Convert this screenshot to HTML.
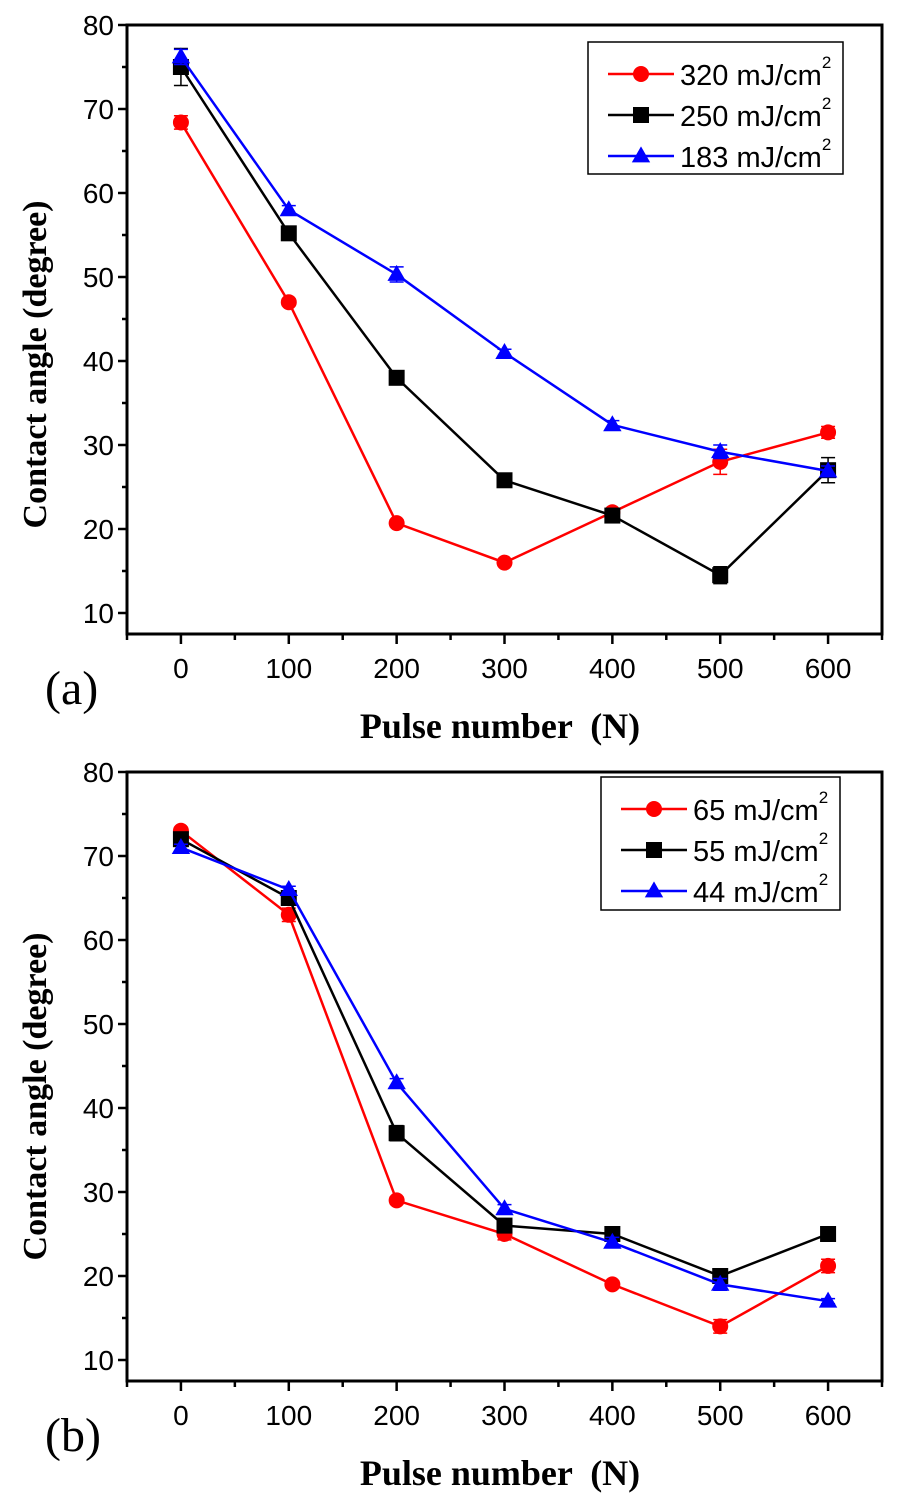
<!DOCTYPE html>
<html><head><meta charset="utf-8">
<style>
html,body{margin:0;padding:0;background:#fff;}
svg{display:block;}
.tick{font-family:"Liberation Sans",Arial,sans-serif;font-size:28px;fill:#000;}
.title{font-family:"Liberation Serif","Times New Roman",serif;font-weight:bold;font-size:34px;fill:#000;}
.xtitle{font-family:"Liberation Serif","Times New Roman",serif;font-weight:bold;font-size:36px;fill:#000;}
.leg{font-family:"Liberation Sans",Arial,sans-serif;font-size:29px;fill:#000;}
.panel{font-family:"Liberation Serif","Times New Roman",serif;font-size:48px;fill:#000;}
</style></head>
<body>
<svg id="chart" width="913" height="1500" viewBox="0 0 913 1500" xmlns="http://www.w3.org/2000/svg"></svg>
<script>
const pulseNumbers = [0, 100, 200, 300, 400, 500, 600];
const xTicks = [0, 100, 200, 300, 400, 500, 600];
const yTicks = [10, 20, 30, 40, 50, 60, 70, 80];

const aLabels = ["320 mJ/cm", "250 mJ/cm", "183 mJ/cm"];
const a320 = [68.4, 47, 20.7, 16, 22, 28, 31.5];
const a320err = [0.8, 0.4, 0.4, 0.3, 0.4, 1.5, 0.7];
const a250 = [75, 55.2, 38, 25.8, 21.6, 14.5, 27];
const a250err = [2.2, 0.6, 0.7, 0.4, 0.5, 1.0, 1.5];
const a183 = [76.2, 58, 50.3, 41, 32.4, 29.2, 26.9];
const a183err = [0.9, 0.5, 0.9, 0.4, 0.5, 0.8, 0.6];

const bLabels = ["65 mJ/cm", "55 mJ/cm", "44 mJ/cm"];
const b65 = [73, 63, 29, 25, 19, 14, 21.2];
const b65err = [0.4, 0.8, 0.4, 0.7, 0.4, 0.8, 0.8];
const b55 = [72, 65, 37, 26, 25, 20, 25];
const b55err = [0.5, 0.5, 0.9, 0.6, 0.4, 0.8, 0.4];
const b44 = [71, 66, 43, 28, 24, 19, 17];
const b44err = [0.4, 0.4, 0.5, 0.5, 0.6, 0.7, 0.3];

const NS = "http://www.w3.org/2000/svg";
const svg = document.getElementById('chart');
function mk(tag, attrs, parent){
  const e = document.createElementNS(NS, tag);
  for (const k in attrs) e.setAttribute(k, attrs[k]);
  (parent || svg).appendChild(e);
  return e;
}

function panel(cfg){
  const L = 127, R = 882, T = cfg.top, B = cfg.top + 609;
  const xMin = -50, xMax = 650, yMin = 7.5, yMax = 80;
  const xs = v => L + (v - xMin) / (xMax - xMin) * (R - L);
  const ys = v => B - (v - yMin) / (yMax - yMin) * (B - T);
  const g = mk('g', {});
  
  
  const frame = mk('rect', {x:L, y:T, width:R-L, height:B-T, fill:'none', stroke:'#000', 'stroke-width':3}, g);
  
  
  for (let v = 10; v <= 80; v += 5) {
    const major = v % 10 === 0;
    const t = mk('line', {x1:L - (major ? 9 : 5), x2:L, y1:ys(v), y2:ys(v), stroke:'#000', 'stroke-width':2.5}, g);
    
    
  }
  yTicks.forEach(v => {
    const t = mk('text', {x:L - 13, y:ys(v) + 10, 'text-anchor':'end', class:'tick'}, g);
    t.textContent = v;
    
    
  });
  for (let v = -50; v <= 650; v += 50) {
    const major = v % 100 === 0;
    const t = mk('line', {x1:xs(v), x2:xs(v), y1:B, y2:B + (major ? 10 : 6), stroke:'#000', 'stroke-width':2.5}, g);
    
    
  }
  xTicks.forEach(v => {
    const t = mk('text', {x:xs(v), y:B + 44, 'text-anchor':'middle', class:'tick'}, g);
    t.textContent = v;
    
    
  });
  const yt = mk('text', {x:0, y:0, transform:'translate(46,' + ((T + B) / 2 + cfg.ytOff) + ') rotate(-90)', 'text-anchor':'middle', class:'title'}, g);
  yt.textContent = 'Contact angle (degree)';
  
  
  const xt = mk('text', {x:500, y:B + 104, 'text-anchor':'middle', class:'xtitle'}, g);
  xt.textContent = 'Pulse number \u00a0(N)';
  
  
  const pl = mk('text', {x:45, y:B + 70, class:'panel'}, g);
  pl.textContent = cfg.panelLabel;
  
  

  const colors = ['#ff0000', '#000000', '#0000ff'];
  const shapes = ['circle', 'square', 'triangle'];
  function marker(parent, shape, cx, cy, color, s){
    let m;
    if (shape === 'circle') m = mk('circle', {cx:cx, cy:cy, r:s, fill:color}, parent);
    else if (shape === 'square') m = mk('rect', {x:cx - s, y:cy - s, width:2 * s, height:2 * s, fill:color}, parent);
    else m = mk('polygon', {points:(cx) + ',' + (cy - s * 1.2) + ' ' + (cx - s * 1.15) + ',' + (cy + s * 0.8) + ' ' + (cx + s * 1.15) + ',' + (cy + s * 0.8), fill:color}, parent);
    return m;
  }
  cfg.series.forEach((vals, si) => {
    const sg = mk('g', {}, g);
    
    
    const pts = pulseNumbers.map((p, i) => xs(p) + ',' + ys(vals[i])).join(' ');
    const ln = mk('polyline', {points:pts, fill:'none', stroke:colors[si], 'stroke-width':2.5}, sg);
    
    
    pulseNumbers.forEach((p, i) => {
      const e = cfg.errs[si][i];
      const cx = xs(p), y1 = ys(vals[i] + e), y2 = ys(vals[i] - e);
      const eb = mk('path', {d:'M' + cx + ',' + y1 + 'V' + y2 + 'M' + (cx - 7) + ',' + y1 + 'H' + (cx + 7) + 'M' + (cx - 7) + ',' + y2 + 'H' + (cx + 7), stroke:colors[si], 'stroke-width':1.5, fill:'none'}, sg);
      
      
      const m = marker(sg, shapes[si], cx, ys(vals[i]), colors[si], 8);
      
      
    });
  });
  const lg = mk('g', {}, g);
  
  
  const lb = cfg.legend;
  mk('rect', {x:lb.x, y:lb.y, width:lb.w, height:lb.h, fill:'#fff', stroke:'#000', 'stroke-width':1.5}, lg);
  cfg.labels.forEach((lab, si) => {
    const cy = lb.y + 32 + si * 41;
    const eg = mk('g', {}, lg);
    
    
    mk('line', {x1:lb.x + 20, x2:lb.x + 86, y1:cy, y2:cy, stroke:colors[si], 'stroke-width':2.5}, eg);
    marker(eg, shapes[si], lb.x + 53, cy, colors[si], 8);
    const t = mk('text', {x:lb.x + 92, y:cy + 11, class:'leg'}, eg);
    t.textContent = lab;
    const sup = mk('tspan', {dy:-17, 'font-size':'17'}, t);
    sup.textContent = '2';
  });
}

panel({name:'panel-a', top:25, panelLabel:'(a)', labels:aLabels, ytOff:35,
  series:[a320, a250, a183], errs:[a320err, a250err, a183err],
  legend:{x:588, y:42, w:255, h:132}});
panel({name:'panel-b', top:772, panelLabel:'(b)', labels:bLabels, ytOff:20,
  series:[b65, b55, b44], errs:[b65err, b55err, b44err],
  legend:{x:601, y:777, w:239, h:133}});
</script>
</body></html>
